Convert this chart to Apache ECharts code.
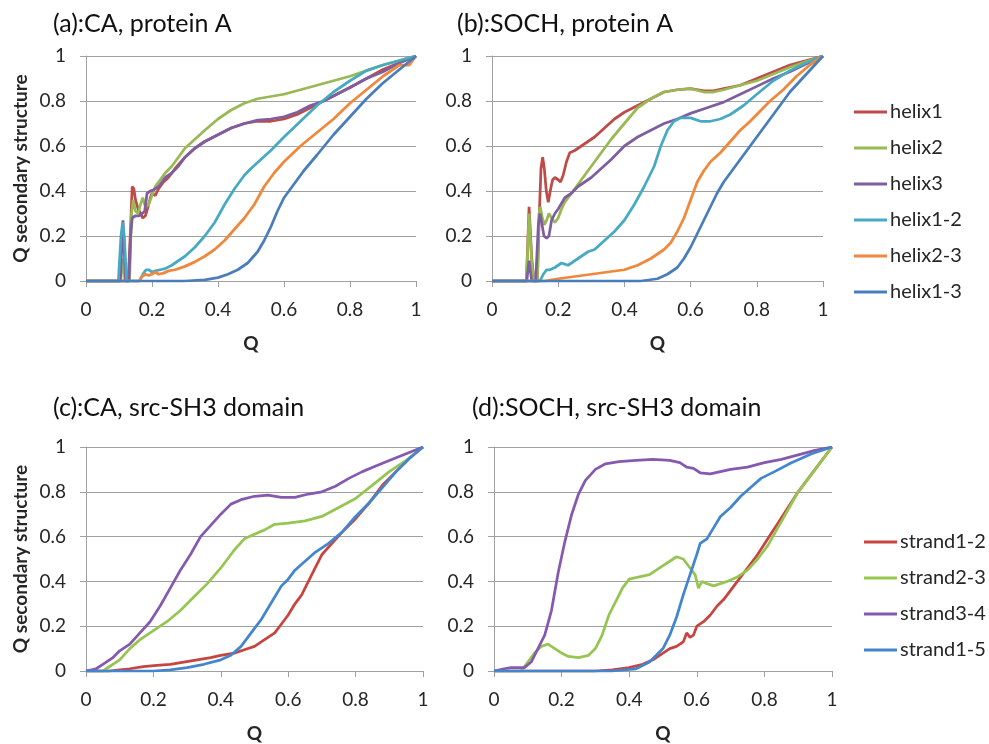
<!DOCTYPE html>
<html>
<head>
<meta charset="utf-8">
<script src="https://cdn.jsdelivr.net/npm/echarts@6/dist/echarts.min.js"></script>
<style>
html,body{margin:0;padding:0;background:#fff;}
#chart{width:989px;height:744px;}
</style>
</head>
<body>
<div id="chart"></div>
<script>
// Panel titles
const panelTitles = ['(a):CA, protein A', '(b):SOCH, protein A', '(c):CA, src-SH3 domain', '(d):SOCH, src-SH3 domain'];
const helixNames = ['helix1', 'helix2', 'helix3', 'helix1-2', 'helix2-3', 'helix1-3'];
const strandNames = ['strand1-2', 'strand2-3', 'strand3-4', 'strand1-5'];

// (a) CA, protein A — [Q, Q secondary structure]
const helix1A = [[0,0],[0.128,0],[0.134,0.2],[0.14,0.42],[0.145,0.41],[0.15,0.36],[0.158,0.32],[0.165,0.3],[0.172,0.28],[0.18,0.29],[0.188,0.33],[0.195,0.37],[0.2,0.39],[0.21,0.38],[0.22,0.41],[0.235,0.44],[0.25,0.46],[0.27,0.5],[0.3,0.55],[0.33,0.59],[0.36,0.62],[0.4,0.65],[0.44,0.68],[0.48,0.7],[0.52,0.71],[0.56,0.71],[0.6,0.72],[0.64,0.74],[0.68,0.77],[0.72,0.8],[0.76,0.83],[0.8,0.86],[0.85,0.9],[0.9,0.94],[0.95,0.97],[1,1]];
const helix2A = [[0,0],[0.105,0],[0.112,0.1],[0.118,0],[0.132,0],[0.138,0.3],[0.143,0.36],[0.15,0.31],[0.158,0.3],[0.165,0.34],[0.172,0.37],[0.18,0.33],[0.19,0.34],[0.2,0.38],[0.21,0.42],[0.225,0.45],[0.24,0.48],[0.26,0.51],[0.28,0.55],[0.3,0.59],[0.33,0.63],[0.36,0.67],[0.4,0.72],[0.44,0.76],[0.48,0.79],[0.52,0.81],[0.56,0.82],[0.6,0.83],[0.65,0.85],[0.7,0.87],[0.75,0.89],[0.8,0.91],[0.85,0.935],[0.9,0.96],[0.95,0.98],[1,1]];
const helix3A = [[0,0],[0.104,0],[0.112,0.27],[0.12,0],[0.13,0],[0.135,0.2],[0.14,0.28],[0.15,0.29],[0.16,0.29],[0.17,0.3],[0.178,0.31],[0.185,0.39],[0.195,0.4],[0.205,0.405],[0.22,0.42],[0.24,0.46],[0.26,0.48],[0.28,0.51],[0.3,0.55],[0.33,0.59],[0.36,0.62],[0.4,0.65],[0.44,0.68],[0.48,0.7],[0.52,0.715],[0.56,0.72],[0.6,0.73],[0.64,0.75],[0.68,0.78],[0.72,0.8],[0.76,0.83],[0.8,0.86],[0.85,0.9],[0.9,0.93],[0.95,0.97],[1,1]];
const helix12A = [[0,0],[0.098,0],[0.106,0.2],[0.111,0.26],[0.116,0.2],[0.123,0],[0.163,0],[0.172,0.03],[0.182,0.05],[0.19,0.05],[0.2,0.04],[0.21,0.045],[0.225,0.05],[0.24,0.055],[0.26,0.07],[0.28,0.09],[0.3,0.11],[0.33,0.15],[0.36,0.2],[0.39,0.26],[0.42,0.34],[0.45,0.41],[0.48,0.47],[0.5,0.5],[0.53,0.54],[0.56,0.58],[0.6,0.64],[0.65,0.71],[0.7,0.78],[0.75,0.84],[0.8,0.89],[0.85,0.935],[0.9,0.96],[0.95,0.98],[1,1]];
const helix23A = [[0,0],[0.16,0],[0.17,0.02],[0.18,0.03],[0.19,0.025],[0.2,0.03],[0.21,0.04],[0.22,0.03],[0.235,0.035],[0.25,0.045],[0.27,0.05],[0.3,0.065],[0.33,0.085],[0.36,0.11],[0.39,0.14],[0.42,0.18],[0.45,0.23],[0.48,0.28],[0.51,0.34],[0.54,0.42],[0.57,0.48],[0.6,0.53],[0.65,0.6],[0.7,0.66],[0.75,0.72],[0.8,0.79],[0.85,0.85],[0.9,0.91],[0.95,0.96],[0.98,0.96],[1,1]];
const helix13A = [[0,0],[0.3,0],[0.36,0.005],[0.4,0.015],[0.43,0.03],[0.46,0.05],[0.49,0.08],[0.52,0.13],[0.54,0.18],[0.56,0.24],[0.58,0.31],[0.6,0.37],[0.63,0.43],[0.66,0.49],[0.7,0.56],[0.75,0.65],[0.8,0.73],[0.85,0.81],[0.9,0.88],[0.95,0.94],[1,1]];

// (b) SOCH, protein A
const helix1B = [[0,0],[0.104,0],[0.112,0.33],[0.12,0.1],[0.127,0],[0.137,0],[0.143,0.3],[0.148,0.5],[0.153,0.55],[0.158,0.5],[0.164,0.4],[0.17,0.35],[0.176,0.4],[0.183,0.45],[0.19,0.46],[0.2,0.45],[0.207,0.44],[0.215,0.47],[0.225,0.53],[0.235,0.57],[0.25,0.58],[0.27,0.6],[0.29,0.62],[0.31,0.64],[0.34,0.68],[0.37,0.72],[0.4,0.75],[0.44,0.78],[0.48,0.81],[0.52,0.84],[0.56,0.85],[0.6,0.855],[0.64,0.845],[0.67,0.845],[0.7,0.855],[0.75,0.87],[0.8,0.9],[0.85,0.93],[0.9,0.96],[0.95,0.98],[1,1]];
const helix2B = [[0,0],[0.104,0],[0.112,0.3],[0.12,0.08],[0.127,0],[0.137,0],[0.142,0.3],[0.146,0.33],[0.152,0.28],[0.158,0.25],[0.165,0.27],[0.172,0.3],[0.18,0.28],[0.19,0.26],[0.2,0.28],[0.21,0.32],[0.22,0.35],[0.24,0.39],[0.26,0.43],[0.28,0.47],[0.3,0.51],[0.33,0.57],[0.36,0.63],[0.4,0.7],[0.44,0.77],[0.48,0.81],[0.52,0.84],[0.56,0.85],[0.6,0.855],[0.64,0.84],[0.67,0.84],[0.7,0.85],[0.75,0.87],[0.8,0.89],[0.85,0.92],[0.9,0.95],[0.95,0.975],[1,1]];
const helix3B = [[0,0],[0.105,0],[0.112,0.09],[0.12,0],[0.132,0],[0.14,0.25],[0.145,0.3],[0.15,0.26],[0.157,0.2],[0.165,0.19],[0.172,0.2],[0.18,0.27],[0.19,0.3],[0.2,0.32],[0.22,0.37],[0.24,0.39],[0.26,0.42],[0.28,0.44],[0.3,0.46],[0.33,0.5],[0.36,0.54],[0.4,0.6],[0.44,0.64],[0.48,0.67],[0.52,0.7],[0.56,0.72],[0.6,0.745],[0.65,0.77],[0.7,0.795],[0.75,0.83],[0.8,0.865],[0.85,0.9],[0.9,0.93],[0.95,0.965],[1,1]];
const helix12B = [[0,0],[0.145,0],[0.155,0.03],[0.165,0.05],[0.175,0.05],[0.19,0.06],[0.2,0.07],[0.21,0.08],[0.22,0.075],[0.23,0.07],[0.25,0.09],[0.27,0.11],[0.29,0.13],[0.31,0.14],[0.34,0.18],[0.37,0.22],[0.4,0.27],[0.43,0.34],[0.46,0.42],[0.49,0.51],[0.51,0.6],[0.53,0.67],[0.55,0.71],[0.57,0.725],[0.6,0.725],[0.63,0.71],[0.66,0.71],[0.69,0.72],[0.72,0.74],[0.76,0.78],[0.8,0.83],[0.85,0.89],[0.9,0.935],[0.95,0.97],[1,1]];
const helix23B = [[0,0],[0.16,0],[0.18,0.005],[0.2,0.01],[0.25,0.02],[0.3,0.03],[0.35,0.04],[0.4,0.05],[0.44,0.07],[0.48,0.1],[0.52,0.14],[0.54,0.17],[0.56,0.22],[0.58,0.28],[0.6,0.36],[0.62,0.44],[0.64,0.49],[0.66,0.53],[0.69,0.57],[0.72,0.62],[0.75,0.67],[0.78,0.71],[0.8,0.74],[0.84,0.8],[0.88,0.85],[0.92,0.91],[0.96,0.96],[1,1]];
const helix13B = [[0,0],[0.45,0],[0.5,0.01],[0.53,0.03],[0.56,0.06],[0.58,0.1],[0.6,0.15],[0.62,0.21],[0.64,0.27],[0.66,0.33],[0.68,0.39],[0.7,0.44],[0.74,0.52],[0.78,0.6],[0.82,0.68],[0.86,0.76],[0.9,0.84],[0.95,0.92],[1,1]];

// (c) CA, src-SH3 domain
const strand12C = [[0,0],[0.07,0],[0.1,0.005],[0.13,0.01],[0.17,0.02],[0.21,0.025],[0.25,0.03],[0.29,0.04],[0.33,0.05],[0.37,0.06],[0.4,0.07],[0.44,0.08],[0.47,0.095],[0.5,0.11],[0.53,0.14],[0.56,0.17],[0.58,0.21],[0.6,0.25],[0.62,0.3],[0.64,0.34],[0.66,0.4],[0.68,0.46],[0.7,0.52],[0.73,0.57],[0.76,0.62],[0.8,0.68],[0.84,0.75],[0.88,0.83],[0.92,0.89],[0.96,0.95],[1,1]];
const strand23C = [[0,0],[0.05,0],[0.07,0.02],[0.1,0.05],[0.13,0.1],[0.16,0.14],[0.2,0.18],[0.24,0.22],[0.28,0.27],[0.32,0.33],[0.36,0.39],[0.4,0.46],[0.44,0.54],[0.47,0.59],[0.5,0.61],[0.53,0.63],[0.56,0.655],[0.6,0.66],[0.65,0.67],[0.7,0.69],[0.75,0.73],[0.8,0.77],[0.85,0.83],[0.9,0.89],[0.95,0.94],[1,1]];
const strand34C = [[0,0],[0.03,0.01],[0.05,0.03],[0.08,0.06],[0.1,0.09],[0.13,0.12],[0.16,0.17],[0.19,0.22],[0.22,0.29],[0.25,0.37],[0.28,0.45],[0.31,0.52],[0.34,0.6],[0.37,0.65],[0.4,0.7],[0.43,0.745],[0.46,0.765],[0.5,0.78],[0.54,0.785],[0.58,0.775],[0.62,0.775],[0.66,0.79],[0.7,0.8],[0.74,0.825],[0.78,0.86],[0.82,0.89],[0.86,0.915],[0.9,0.94],[0.95,0.97],[1,1]];
const strand15C = [[0,0],[0.2,0],[0.25,0.005],[0.3,0.015],[0.35,0.03],[0.4,0.05],[0.43,0.07],[0.46,0.11],[0.48,0.15],[0.5,0.19],[0.52,0.23],[0.54,0.28],[0.56,0.33],[0.58,0.38],[0.6,0.41],[0.62,0.45],[0.65,0.49],[0.68,0.53],[0.72,0.57],[0.76,0.62],[0.8,0.69],[0.84,0.75],[0.88,0.82],[0.92,0.89],[0.96,0.95],[1,1]];

// (d) SOCH, src-SH3 domain
const strand12D = [[0,0],[0.3,0],[0.35,0.005],[0.4,0.015],[0.44,0.03],[0.47,0.05],[0.5,0.08],[0.52,0.1],[0.54,0.11],[0.56,0.13],[0.57,0.17],[0.58,0.15],[0.59,0.16],[0.6,0.2],[0.62,0.22],[0.64,0.25],[0.66,0.29],[0.68,0.32],[0.7,0.36],[0.72,0.4],[0.75,0.46],[0.78,0.52],[0.81,0.59],[0.84,0.66],[0.87,0.73],[0.9,0.8],[0.94,0.88],[0.97,0.94],[1,1]];
const strand23D = [[0,0],[0.08,0],[0.1,0.04],[0.12,0.08],[0.14,0.11],[0.16,0.12],[0.18,0.1],[0.2,0.08],[0.22,0.065],[0.25,0.06],[0.28,0.07],[0.3,0.1],[0.32,0.16],[0.34,0.25],[0.36,0.31],[0.38,0.37],[0.4,0.41],[0.43,0.42],[0.46,0.43],[0.49,0.46],[0.52,0.49],[0.54,0.51],[0.56,0.5],[0.58,0.46],[0.595,0.43],[0.605,0.37],[0.615,0.4],[0.63,0.39],[0.65,0.38],[0.67,0.39],[0.69,0.4],[0.72,0.42],[0.75,0.45],[0.78,0.5],[0.81,0.56],[0.84,0.64],[0.87,0.72],[0.9,0.8],[0.94,0.88],[0.97,0.94],[1,1]];
const strand34D = [[0,0],[0.03,0.01],[0.05,0.015],[0.09,0.015],[0.11,0.04],[0.13,0.1],[0.15,0.16],[0.17,0.27],[0.19,0.44],[0.21,0.58],[0.23,0.7],[0.25,0.79],[0.27,0.85],[0.3,0.9],[0.33,0.925],[0.37,0.935],[0.42,0.94],[0.47,0.945],[0.52,0.94],[0.55,0.93],[0.57,0.91],[0.59,0.905],[0.61,0.885],[0.64,0.88],[0.67,0.89],[0.7,0.9],[0.75,0.91],[0.8,0.93],[0.85,0.945],[0.9,0.965],[0.95,0.985],[1,1]];
const strand15D = [[0,0],[0.35,0],[0.42,0.01],[0.46,0.04],[0.5,0.1],[0.52,0.16],[0.54,0.24],[0.56,0.34],[0.58,0.43],[0.6,0.52],[0.61,0.57],[0.63,0.59],[0.65,0.64],[0.67,0.69],[0.7,0.73],[0.73,0.78],[0.76,0.82],[0.79,0.86],[0.83,0.89],[0.88,0.93],[0.94,0.97],[1,1]];

const helixColors = ['#BE4B48', '#98B954', '#7D5FA0', '#46AAC5', '#F0883C', '#4A7EBB'];
const strandColors = ['#C8453F', '#96C552', '#8659B0', '#4186CE'];

const FONT = 'Lato';
const GRAY = '#A0A0A0';
const TEXT = '#262626';

const panels = [
  { grid: { left: 86, top: 56, width: 330, height: 225 }, names: helixNames, colors: helixColors,
    data: [helix1A, helix2A, helix3A, helix12A, helix23A, helix13A], yTitle: true },
  { grid: { left: 492, top: 56, width: 331, height: 225 }, names: helixNames, colors: helixColors,
    data: [helix1B, helix2B, helix3B, helix12B, helix23B, helix13B], yTitle: false },
  { grid: { left: 86, top: 447, width: 337, height: 225 }, names: strandNames, colors: strandColors,
    data: [strand12C, strand23C, strand34C, strand15C], yTitle: true },
  { grid: { left: 494, top: 447, width: 338, height: 225 }, names: strandNames, colors: strandColors,
    data: [strand12D, strand23D, strand34D, strand15D], yTitle: false }
];
const titlePos = [[48, 6], [452, 6], [48, 390], [467, 390]];

const grid = [], xAxis = [], yAxis = [], series = [], title = [];
panels.forEach((p, i) => {
  grid.push(Object.assign({ containLabel: false }, p.grid));
  title.push({ text: panelTitles[i], left: titlePos[i][0], top: titlePos[i][1],
    textStyle: { fontFamily: FONT, fontSize: 25, fontWeight: 'normal', color: '#111' } });
  xAxis.push({
    type: 'value', gridIndex: i, min: 0, max: 1, interval: 0.2,
    name: 'Q', nameLocation: 'middle', nameGap: 53,
    nameTextStyle: { fontFamily: FONT, fontSize: 19, fontWeight: 'bold', color: TEXT },
    axisLine: { show: true, lineStyle: { color: GRAY, width: 1 } },
    axisTick: { show: true, inside: false, length: 6, lineStyle: { color: GRAY } },
    axisLabel: { fontFamily: FONT, fontSize: 19, color: TEXT, margin: 19 },
    splitLine: { show: false }
  });
  yAxis.push({
    type: 'value', gridIndex: i, min: 0, max: 1, interval: 0.2,
    name: p.yTitle ? 'Q secondary structure' : '', nameLocation: 'middle', nameGap: 56,
    nameTextStyle: { fontFamily: FONT, fontSize: 19, fontWeight: 'bold', color: TEXT },
    axisLine: { show: true, lineStyle: { color: GRAY, width: 1 } },
    axisTick: { show: true, inside: false, length: 6, lineStyle: { color: GRAY } },
    axisLabel: { fontFamily: FONT, fontSize: 19, color: TEXT, margin: 20 },
    splitLine: { show: true, lineStyle: { color: GRAY, width: 1 } }
  });
  p.data.forEach((d, k) => {
    series.push({
      type: 'line', name: p.names[k], xAxisIndex: i, yAxisIndex: i, data: d,
      showSymbol: false, symbol: 'none', smooth: false, animation: false,
      lineStyle: { color: p.colors[k], width: 2.75 }, itemStyle: { color: p.colors[k] }
    });
  });
});

const legendBase = {
  orient: 'vertical', icon: 'rect', itemWidth: 33, itemHeight: 3, itemGap: 16,
  textStyle: { fontFamily: FONT, fontSize: 20, color: TEXT, padding: [0, 0, 0, -2] },
  selectedMode: false
};
const legend = [
  Object.assign({}, legendBase, { data: helixNames, left: 849, top: 97 }),
  Object.assign({}, legendBase, { data: strandNames, left: 859, top: 527 })
];

const chart = echarts.init(document.getElementById('chart'), null, { renderer: 'canvas' });
chart.setOption({
  backgroundColor: '#fff', animation: false,
  title, grid, xAxis, yAxis, series, legend
});
</script>
</body>
</html>
